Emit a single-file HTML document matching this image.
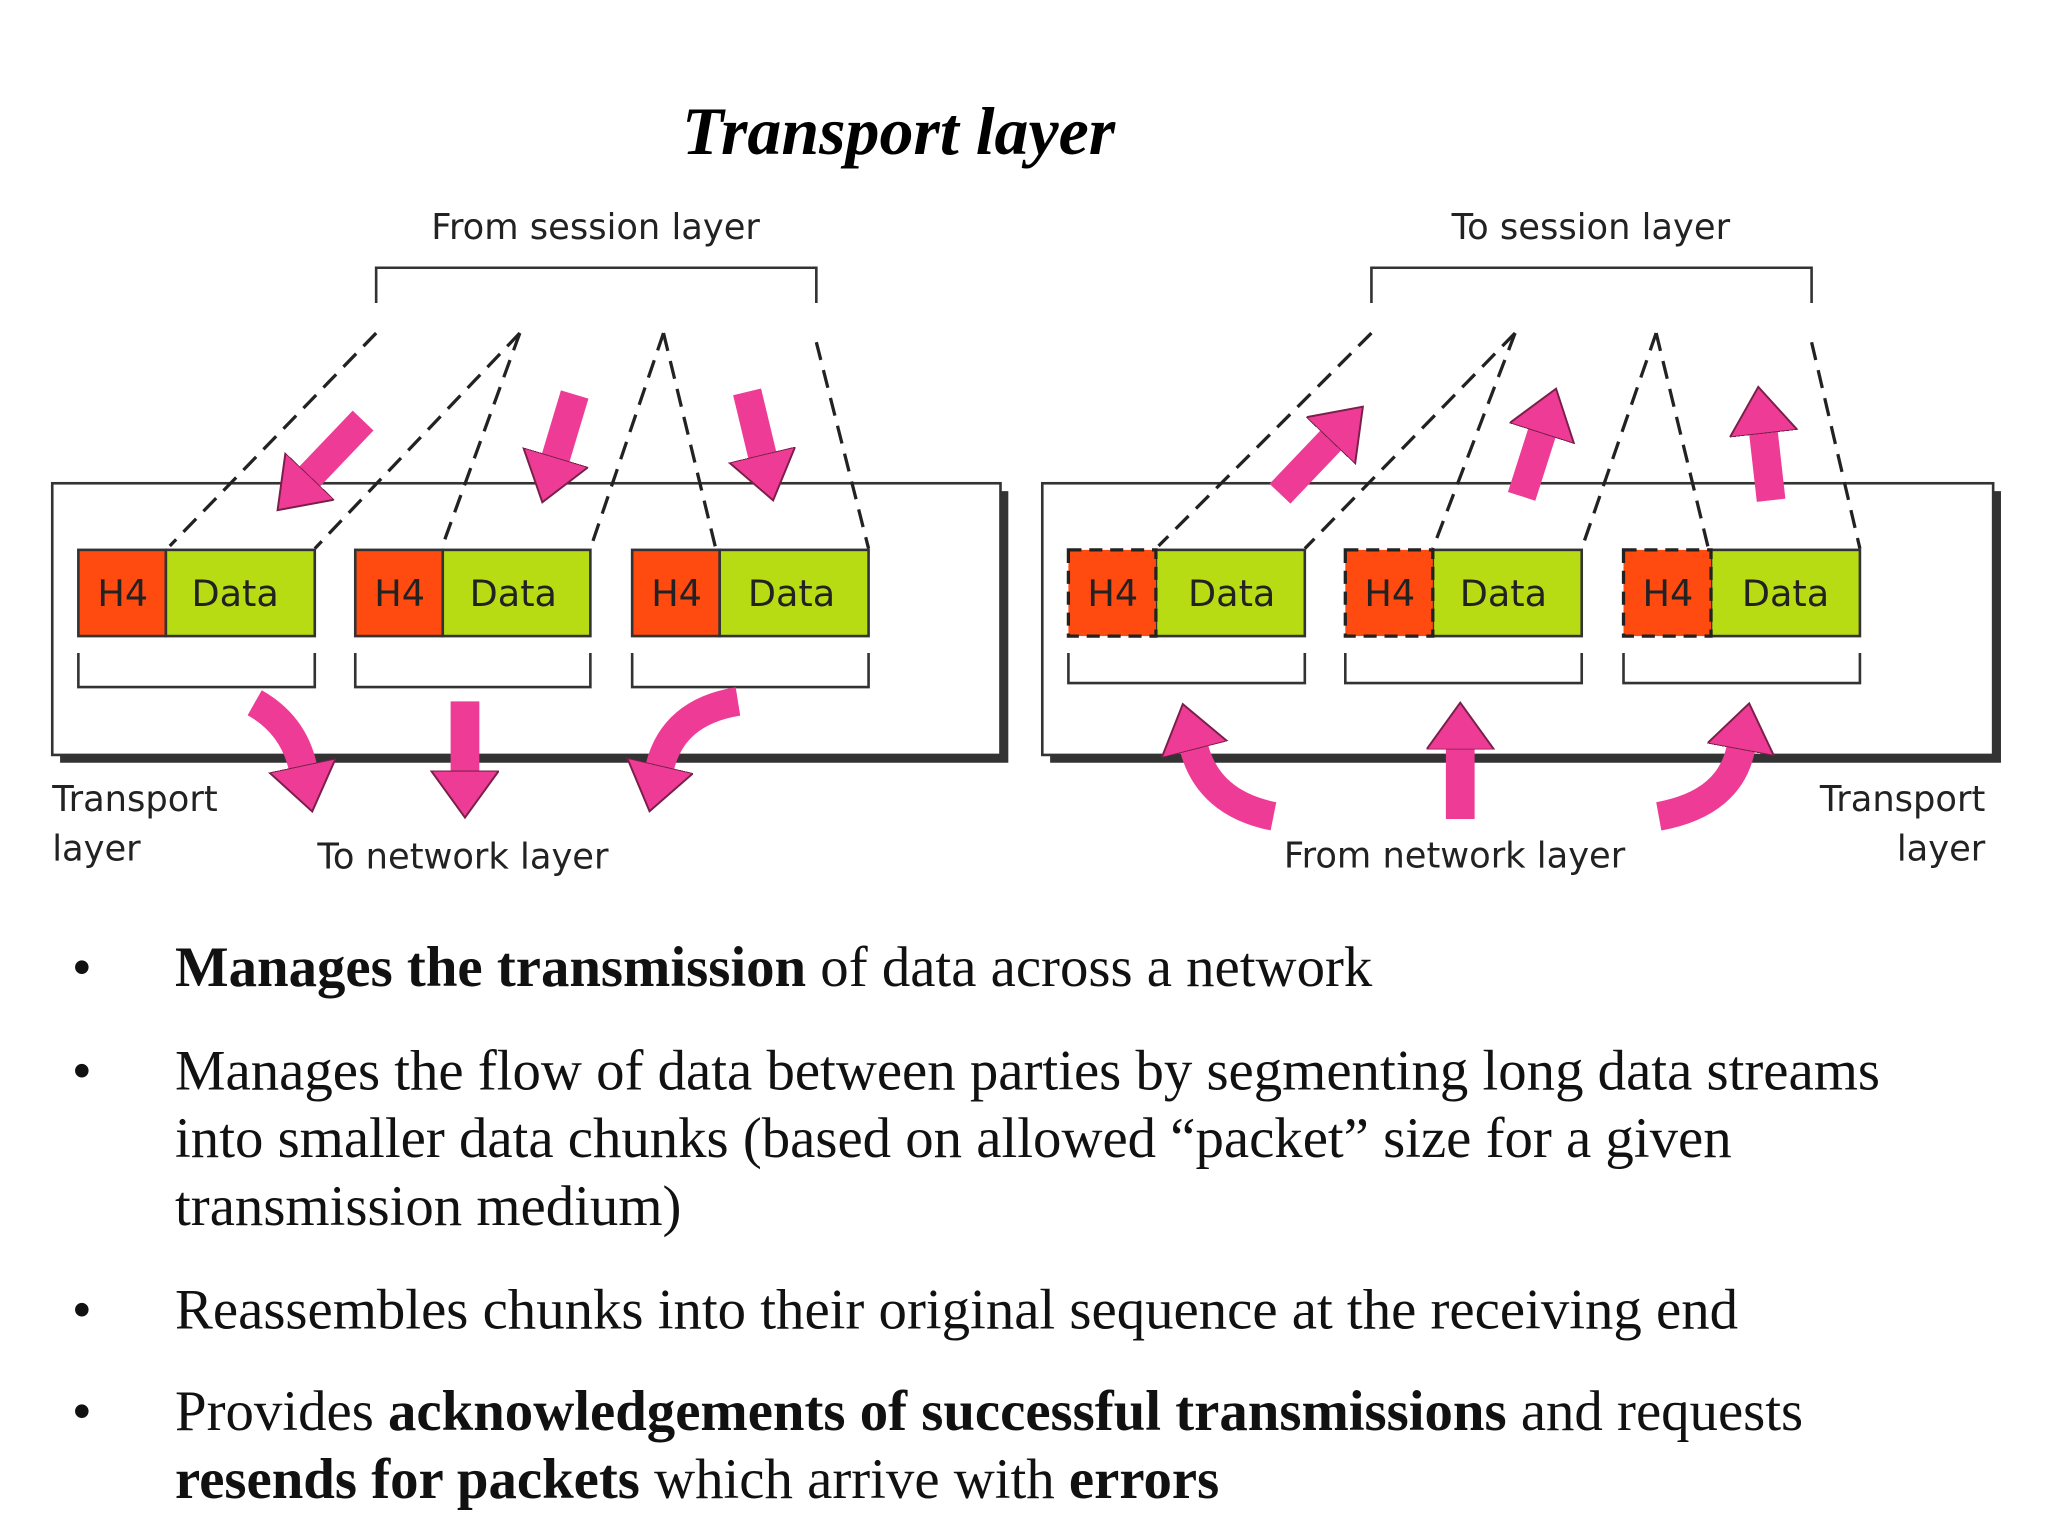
<!DOCTYPE html>
<html><head><meta charset="utf-8">
<style>
html,body{margin:0;padding:0;background:#fff;}
svg{display:block;}
.sans{font-family:"DejaVu Sans","Liberation Sans",sans-serif;}
.serif{font-family:"Liberation Serif",serif;}
</style></head>
<body>
<svg width="2048" height="1536" viewBox="0 0 1568 1176" xmlns="http://www.w3.org/2000/svg">
<defs>
<marker id="ah" markerUnits="userSpaceOnUse" markerWidth="60" markerHeight="60" refX="2" refY="26" orient="auto">
<path d="M0,0 L36,26 L0,52 Z" fill="#ee3c96" stroke="#7a1f4a" stroke-width="1.5"/>
</marker>
</defs>
<rect x="0" y="0" width="1568" height="1176" fill="#fff"/>
<text x="688" y="118" text-anchor="middle" class="serif" font-size="52" font-style="italic" font-weight="bold">Transport layer</text>

<g class="sans" font-size="27" fill="#222">
<text x="456" y="183" text-anchor="middle">From session layer</text>
<text x="1218" y="183" text-anchor="middle">To session layer</text>
<text x="613" y="565">Segments</text>
<text x="1372" y="564">Segments</text>
<text x="40" y="621">Transport</text>
<text x="40" y="659">layer</text>
<text x="243" y="665">To network layer</text>
<text x="983" y="664">From network layer</text>
<text x="1520" y="621" text-anchor="end">Transport</text>
<text x="1520" y="659" text-anchor="end">layer</text>
</g>

<g fill="none" stroke="#333" stroke-width="2">
<path d="M288,232 V205 H625 V232"/>
<path d="M1050,232 V205 H1387 V232"/>
<rect x="40" y="370" width="726" height="208" fill="#fff"/>
<rect x="798" y="370" width="728" height="208" fill="#fff"/>
</g>
<g stroke="#333" stroke-width="6" fill="none">
<path d="M769,376 V581 H46"/>
<path d="M1529,376 V581 H804"/>
</g>

<g stroke="#222" stroke-width="2.5" stroke-dasharray="14,8" fill="none">
<path d="M288,255 L130,418"/>
<path d="M398,255 L241,420"/>
<path d="M398,255 L338,420"/>
<path d="M508,255 L452,420"/>
<path d="M508,255 L548,420"/>
<path d="M625,262 L665,420"/>
<path d="M1050,255 L887,418"/>
<path d="M1160,255 L999,420"/>
<path d="M1160,255 L1097,420"/>
<path d="M1268,255 L1211,420"/>
<path d="M1268,255 L1308,420"/>
<path d="M1387,262 L1424,420"/>
</g>

<g stroke="#333" stroke-width="2">
<rect x="60" y="421" width="67" height="66" fill="#ff4a10"/>
<rect x="127" y="421" width="114" height="66" fill="#b8dc14"/>
<rect x="272" y="421" width="67" height="66" fill="#ff4a10"/>
<rect x="339" y="421" width="113" height="66" fill="#b8dc14"/>
<rect x="484" y="421" width="67" height="66" fill="#ff4a10"/>
<rect x="551" y="421" width="114" height="66" fill="#b8dc14"/>
<rect x="885" y="421" width="114" height="66" fill="#b8dc14"/>
<rect x="1097" y="421" width="114" height="66" fill="#b8dc14"/>
<rect x="1310" y="421" width="114" height="66" fill="#b8dc14"/>
</g>
<g stroke="#222" stroke-width="2.5" stroke-dasharray="10,6">
<rect x="818" y="421" width="67" height="66" fill="#ff4a10"/>
<rect x="1030" y="421" width="67" height="66" fill="#ff4a10"/>
<rect x="1243" y="421" width="67" height="66" fill="#ff4a10"/>
</g>
<g class="sans" font-size="28" fill="#222" text-anchor="middle">
<text x="94" y="464">H4</text><text x="180" y="464">Data</text>
<text x="306" y="464">H4</text><text x="393" y="464">Data</text>
<text x="518" y="464">H4</text><text x="606" y="464">Data</text>
<text x="852" y="464">H4</text><text x="943" y="464">Data</text>
<text x="1064" y="464">H4</text><text x="1151" y="464">Data</text>
<text x="1277" y="464">H4</text><text x="1367" y="464">Data</text>
</g>
<g fill="none" stroke="#333" stroke-width="2">
<path d="M60,500 V526 H241 V500"/>
<path d="M272,500 V526 H452 V500"/>
<path d="M484,500 V526 H665 V500"/>
<path d="M818,500 V523 H999 V500"/>
<path d="M1030,500 V523 H1211 V500"/>
<path d="M1243,500 V523 H1424 V500"/>
</g>

<g stroke="#ee3c96" stroke-width="22" fill="none" marker-end="url(#ah)">
<path d="M278,322 L236,366"/>
<path d="M440,302 L425,352"/>
<path d="M572,300 L584,350"/>
<path d="M195,538 Q225,555 232,588"/>
<path d="M356,537 L356,592"/>
<path d="M565,537 Q515,545 505,588"/>
<path d="M980,378 L1020,336"/>
<path d="M1165,380 L1181,330"/>
<path d="M1356,383 L1350,330"/>
<path d="M975,625 Q925,615 914,572"/>
<path d="M1118,627 L1118,572"/>
<path d="M1270,625 Q1325,615 1333,572"/>
</g>

<g class="serif" font-size="43.5" fill="#111">
<text x="55" y="755">•</text>
<text x="134" y="755"><tspan font-weight="bold">Manages the transmission</tspan> of data across a network</text>
<text x="55" y="834">•</text>
<text x="134" y="834">Manages the flow of data between parties by segmenting long data streams</text>
<text x="134" y="886">into smaller data chunks (based on allowed “packet” size for a given</text>
<text x="134" y="938">transmission medium)</text>
<text x="55" y="1017">•</text>
<text x="134" y="1017">Reassembles chunks into their original sequence at the receiving end</text>
<text x="55" y="1095">•</text>
<text x="134" y="1095">Provides <tspan font-weight="bold">acknowledgements of successful transmissions</tspan> and requests</text>
<text x="134" y="1147"><tspan font-weight="bold">resends for packets</tspan> which arrive with <tspan font-weight="bold">errors</tspan></text>
</g>
</svg>
</body></html>
